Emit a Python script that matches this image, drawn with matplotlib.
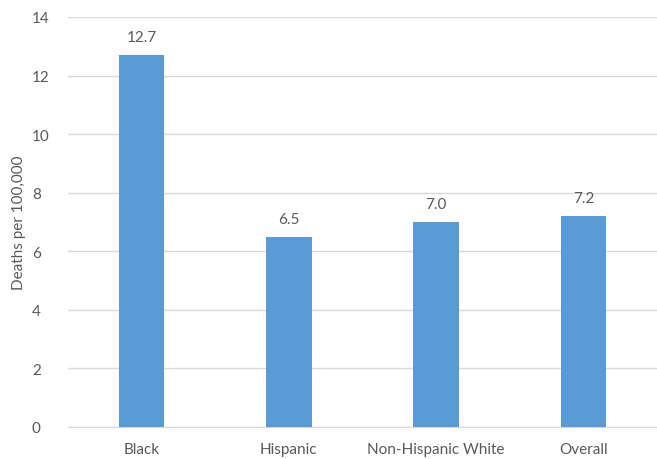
import matplotlib
matplotlib.use("Agg")
import matplotlib.pyplot as plt

# 데이터
categories = ["Black", "Hispanic", "Non-Hispanic White", "Overall"]
deaths = [12.7, 6.5, 7.0, 7.2]
value_labels = ["12.7", "6.5", "7.0", "7.2"]
y_ticks = [0, 2, 4, 6, 8, 10, 12, 14]

text_color = "#595959"
plt.rcParams["font.family"] = ["Lato", "DejaVu Sans"]

fig = plt.figure(figsize=(6.57, 4.60), dpi=100)
ax = fig.add_axes([0.1035, 0.0696, 0.8965, 0.8913])

index = range(len(categories))
bars = ax.bar(index, deaths, 0.31, color="#5B9BD5", zorder=3)

for bar, lab in zip(bars, value_labels):
    ax.annotate(lab, (bar.get_x() + bar.get_width() / 2, bar.get_height()),
                xytext=(0, 8), textcoords="offset points", ha="center", va="bottom",
                fontsize=11, color=text_color)

ax.set_xlim(-0.5, 3.5)
ax.set_ylim(0, 14)
ax.set_yticks(y_ticks)
ax.set_xticks(list(index))
ax.set_xticklabels(categories)
ax.grid(axis="y", color="#D9D9D9", linewidth=1, zorder=0)
ax.set_ylabel("Deaths per 100,000", fontsize=11, color=text_color, labelpad=4)

for side in ["top", "right", "left"]:
    ax.spines[side].set_visible(False)
ax.spines["bottom"].set_color("#D9D9D9")
ax.tick_params(axis="both", length=0, labelsize=11, labelcolor=text_color)
ax.tick_params(axis="x", pad=11)
ax.tick_params(axis="y", pad=26)
for t in ax.get_yticklabels():
    t.set_horizontalalignment("left")

fig.savefig("out.png", dpi=100)
